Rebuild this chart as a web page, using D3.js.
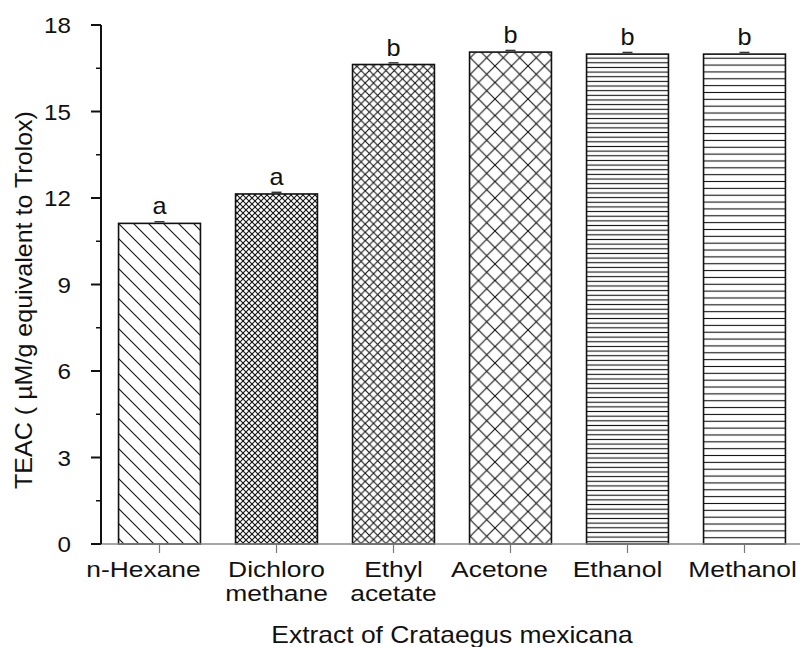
<!DOCTYPE html>
<html><head><meta charset="utf-8">
<script src="https://cdn.jsdelivr.net/npm/d3@7/dist/d3.min.js"></script>
<style>body{margin:0;background:#fff;} svg{display:block;font-family:"Liberation Sans",Arial,sans-serif;}</style>
</head><body>
<svg id="c" width="800" height="647"></svg>
<script>
const categories = [["n-Hexane"],["Dichloro","methane"],["Ethyl","acetate"],["Acetone"],["Ethanol"],["Methanol"]];
const values = [11.12, 12.14, 16.63, 17.06, 16.99, 16.99];
const errors = [0.04, 0.04, 0.04, 0.04, 0.04, 0.04];
const letters = ["a","a","b","b","b","b"];
const yTicks = [0,3,6,9,12,15,18];
const patterns = ["diag","cross6","cross8","cross16","hor46","hor68"];

// layout only: horizontal nudges of category labels as placed in the original figure
const labelNudge = [-16, 0, 0, -11, -10, -2];

const svg = d3.select("#c");
const defs = svg.append("defs");
function diag(id, s){
  const p = defs.append("pattern").attr("id",id).attr("patternUnits","userSpaceOnUse").attr("width",s).attr("height",s);
  p.append("rect").attr("width",s).attr("height",s).attr("fill","#fff");
  p.append("path").attr("d",`M0,0L${s},${s}M${-s},0L${s},${2*s}M0,${-s}L${2*s},${s}`).attr("stroke","#111").attr("stroke-width",1.1);
}
function cross(id, s, w){
  const p = defs.append("pattern").attr("id",id).attr("patternUnits","userSpaceOnUse").attr("width",s).attr("height",s);
  p.append("rect").attr("width",s).attr("height",s).attr("fill","#fff");
  p.append("path").attr("d",`M0,0L${s},${s}M${s},0L0,${s}`).attr("stroke","#111").attr("stroke-width",w);
}
function hor(id, s){
  const p = defs.append("pattern").attr("id",id).attr("patternUnits","userSpaceOnUse").attr("width",10).attr("height",s);
  p.append("rect").attr("width",10).attr("height",s).attr("fill","#fff");
  p.append("path").attr("d",`M0,${s/2}L10,${s/2}`).attr("stroke","#111").attr("stroke-width",1.1);
}
diag("diag",15);
cross("cross6",6,1.1);
cross("cross8",8.3,1.1);
cross("cross16",16.5,1.1);
hor("hor46",4.65);
hor("hor68",6.85);

const x = d3.scaleBand().domain(d3.range(categories.length)).range([101,803]).paddingInner(0.3).paddingOuter(0.15);
const y = d3.scaleLinear().domain([0,18]).range([544,25]);

function txt(parent, tx, ty, s, size, sx, anchor){
  return parent.append("text").attr("transform",`translate(${tx},${ty}) scale(${sx},1)`)
    .attr("text-anchor",anchor||"middle").attr("font-size",size).attr("fill","#111").text(s);
}

// bars
const g = svg.append("g");
g.selectAll("rect.bar").data(values).join("rect")
  .attr("x",(d,i)=>x(i)).attr("y",d=>y(d)).attr("width",x.bandwidth()).attr("height",d=>y(0)-y(d))
  .attr("fill",(d,i)=>`url(#${patterns[i]})`).attr("stroke","#111").attr("stroke-width",1.6);

// error caps
g.selectAll("line.err").data(values).join("line")
  .attr("x1",(d,i)=>x(i)+x.bandwidth()/2-5).attr("x2",(d,i)=>x(i)+x.bandwidth()/2+5)
  .attr("y1",(d,i)=>y(d+errors[i])-0.5).attr("y2",(d,i)=>y(d+errors[i])-0.5)
  .attr("stroke","#333").attr("stroke-width",1.5);

// letters
values.forEach((d,i)=>txt(g, x(i)+x.bandwidth()/2, y(d)-9, letters[i], 23, 1.1));

// x axis
svg.append("line").attr("x1",91).attr("x2",800).attr("y1",y(0)).attr("y2",y(0)).attr("stroke","#888").attr("stroke-width",1.5);
const xt = svg.append("g");
categories.forEach((c,i)=>{
  const cx = x(i)+x.bandwidth()/2;
  xt.append("line").attr("x1",cx).attr("x2",cx).attr("y1",y(0)).attr("y2",y(0)+9).attr("stroke","#777").attr("stroke-width",1.2);
  c.forEach((line,j)=>txt(xt, cx+labelNudge[i], 577+24*j, line, 22, 1.2));
});

// y axis
const ya = svg.append("g");
ya.append("line").attr("x1",101).attr("x2",101).attr("y1",y(18)).attr("y2",y(0)).attr("stroke","#111").attr("stroke-width",2);
yTicks.forEach(t=>{
  ya.append("line").attr("x1",91).attr("x2",101).attr("y1",y(t)).attr("y2",y(t)).attr("stroke","#111").attr("stroke-width",2);
  txt(ya, 71, y(t)+8, t, 22, 1.1, "end");
});
d3.range(1.5,18,3).forEach(t=>{
  ya.append("line").attr("x1",96).attr("x2",101).attr("y1",y(t)).attr("y2",y(t)).attr("stroke","#111").attr("stroke-width",1.5);
});

// titles
txt(svg, 452, 643, "Extract of Crataegus mexicana", 23, 1.15);
svg.append("text").attr("transform","translate(32,300) rotate(-90) scale(1.09,1)").attr("text-anchor","middle").attr("font-size",23).attr("fill","#111").text("TEAC ( µM/g equivalent to Trolox)");
</script>
</body></html>
